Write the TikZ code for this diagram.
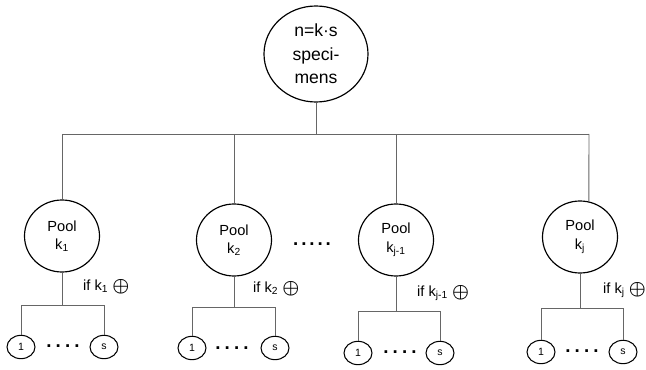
\documentclass[tikz,border=0pt]{standalone}
\usepackage{fontspec}
\setmainfont{Liberation Sans}
\usetikzlibrary{shapes.geometric}
\newcommand{\posmark}{\raisebox{-0.15ex}{\scalebox{1.35}{\boldmath$\oplus$}}}

\begin{document}
\begin{tikzpicture}[x=0.03cm,y=-0.03cm,
spec/.style={ellipse, draw, line width=1pt, minimum width=3.12cm, minimum height=2.88cm, inner sep=0pt, align=center, font=\fontsize{15}{20}\selectfont},
pool/.style={ellipse, draw, line width=1pt, minimum width=2.25cm, minimum height=2.16cm, inner sep=0pt, align=center, font=\fontsize{12.5}{15.5}\selectfont},
leaf/.style={ellipse, draw, line width=0.9pt, minimum width=0.84cm, minimum height=0.7cm, inner sep=0pt, font=\fontsize{9}{10}\selectfont},
lab/.style={anchor=west, inner sep=0pt, font=\fontsize{12.5}{15}\selectfont},
dotrow/.style={inner sep=0pt, font=\bfseries\fontsize{16}{18}\selectfont},
conn/.style={draw=black!60, line width=0.8pt}]
\useasboundingbox (0,0) rectangle (646,370);
\node[spec] (top) at (316,54) {n=k·s\\speci-\\mens};
\node[pool] (k1) at (62,236) {Pool\\k\textsubscript{1}};
\node[pool] (k2) at (234,240) {Pool\\k\textsubscript{2}};
\node[pool] (k3) at (396,240) {Pool\\k\textsubscript{j-1}};
\node[pool] (k4) at (580,237) {Pool\\k\textsubscript{j}};
\node[dotrow] (gap) at (312,244) {.\hspace{2.5pt}.\hspace{2.5pt}.\hspace{2.5pt}.\hspace{2.5pt}.};
\coordinate (mid) at (316,134);
\coordinate (b1) at (62,134);
\coordinate (b2) at (234,134);
\coordinate (b3) at (396,134);
\coordinate (b4) at (589,134);
\draw[conn] (top) -- (mid);
\draw[conn] (b1) -- (b4);
\draw[conn] (b1) -- (k1);
\draw[conn] (b2) -- (k2);
\draw[conn] (b3) -- (k3);
\draw[conn] (b4) -- (k4.76);
\node[lab] (if1) at (83,287) {if k\textsubscript{1} \posmark};
\node[lab] (if2) at (253,289) {if k\textsubscript{2} \posmark};
\node[lab] (if3) at (417,293) {if k\textsubscript{j-1} \posmark};
\node[lab] (if4) at (603,290) {if k\textsubscript{j} \posmark};
\node[leaf] (l1a) at (21,347) {1};
\node[leaf] (l1b) at (104,347) {s};
\node[leaf] (l2a) at (192,348) {1};
\node[leaf] (l2b) at (275,348) {s};
\node[leaf] (l3a) at (358,353) {1};
\node[leaf] (l3b) at (440,353) {s};
\node[leaf] (l4a) at (541,352) {1};
\node[leaf] (l4b) at (623,352) {s};
\node[dotrow] (d1) at (63,346) {.\hspace{3.5pt}.\hspace{3.5pt}.\hspace{3.5pt}.};
\node[dotrow] (d2) at (232,348) {.\hspace{3.5pt}.\hspace{3.5pt}.\hspace{3.5pt}.};
\node[dotrow] (d3) at (400,352) {.\hspace{3.5pt}.\hspace{3.5pt}.\hspace{3.5pt}.};
\node[dotrow] (d4) at (582,351) {.\hspace{3.5pt}.\hspace{3.5pt}.\hspace{3.5pt}.};
\coordinate (s1) at (62,305);
\coordinate (s2) at (234,307);
\coordinate (s3) at (396,311);
\coordinate (s4) at (580,308);
\draw[conn] (k1) -- (s1);
\draw[conn] (l1a) -- (l1a |- s1) -- (l1b |- s1) -- (l1b);
\draw[conn] (k2) -- (s2);
\draw[conn] (l2a) -- (l2a |- s2) -- (l2b |- s2) -- (l2b);
\draw[conn] (k3) -- (s3);
\draw[conn] (l3a) -- (l3a |- s3) -- (l3b |- s3) -- (l3b);
\draw[conn] (k4) -- (s4);
\draw[conn] (l4a) -- (l4a |- s4) -- (l4b |- s4) -- (l4b);
\end{tikzpicture}
\end{document}
